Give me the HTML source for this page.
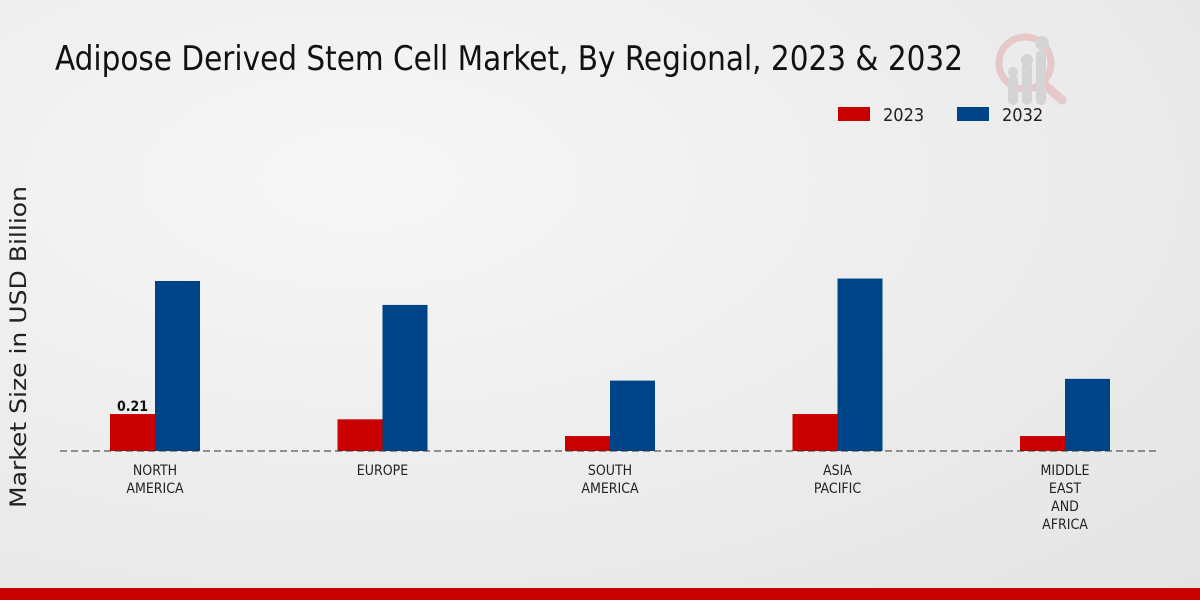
<!DOCTYPE html>
<html><head><meta charset="utf-8"><style>
html,body{margin:0;padding:0;width:1200px;height:600px;overflow:hidden}
body{background:radial-gradient(ellipse at 30% 30%,#f7f7f7 0%,#ececec 55%,#e4e4e4 100%);font-family:"DejaVu Sans","Liberation Sans",sans-serif}
</style></head><body>
<svg id="chart" width="1200" height="600" xmlns="http://www.w3.org/2000/svg">
<text x="55" y="70" font-size="34" fill="#111" font-family="DejaVu Sans Condensed, DejaVu Sans, sans-serif" textLength="908" lengthAdjust="spacingAndGlyphs">Adipose Derived Stem Cell Market, By Regional, 2023 &amp; 2032</text>
<g opacity="0.35">
<circle cx="1025" cy="63" r="26" fill="none" stroke="#d88" stroke-width="7"/>
<line x1="1045" y1="85" x2="1062" y2="100" stroke="#d88" stroke-width="9" stroke-linecap="round"/>
<rect x="1008" y="75" width="10" height="30" rx="5" fill="#aaa"/>
<rect x="1022" y="62" width="10" height="43" rx="5" fill="#aaa"/>
<rect x="1036" y="50" width="10" height="55" rx="5" fill="#aaa"/>
<circle cx="1013" cy="72" r="5" fill="#aaa"/><circle cx="1027" cy="60" r="6" fill="#aaa"/><circle cx="1042" cy="43" r="7" fill="#aaa"/>
</g>
<g font-family="DejaVu Sans Condensed, DejaVu Sans, sans-serif">
<rect x="838" y="107" width="32" height="14" fill="#c80000"/>
<text x="883" y="121" font-size="18" fill="#222">2023</text>
<rect x="957" y="107" width="32" height="14" fill="#004488"/>
<text x="1002" y="121" font-size="18" fill="#222">2032</text>
</g>
<text transform="translate(26,347) rotate(-90)" text-anchor="middle" font-size="22" fill="#222" textLength="322" lengthAdjust="spacingAndGlyphs">Market Size in USD Billion</text>
<g id="bars"></g>
<line x1="60" y1="451" x2="1160" y2="451" stroke="#333" stroke-width="1" stroke-dasharray="7,4"/>
<g id="labels" font-family="DejaVu Sans Condensed, DejaVu Sans, sans-serif"></g>
<rect x="0" y="588" width="1200" height="12" fill="#c80000"/>
</svg>
<script>
const categories=[["NORTH","AMERICA"],["EUROPE"],["SOUTH","AMERICA"],["ASIA","PACIFIC"],["MIDDLE","EAST","AND","AFRICA"]];
const values2023=[0.21,0.18,0.085,0.21,0.085];
const values2032=[0.966,0.83,0.40,0.98,0.41];
const ns="http://www.w3.org/2000/svg";
const base=451,scale=176,x0=155,step=227.5,bw=45;
const yH=v=>v*scale;
const xC=i=>x0+i*step;
const bars=document.getElementById('bars'),labels=document.getElementById('labels');
categories.forEach((c,i)=>{
 [[values2023,'#c80000',-bw,'2023'],[values2032,'#004488',0,'2032']].forEach(([arr,col,off,yr])=>{
  const r=document.createElementNS(ns,'rect');
  const h=yH(arr[i]);
  r.setAttribute('x',xC(i)+off);r.setAttribute('y',base-h);r.setAttribute('width',bw);r.setAttribute('height',h);r.setAttribute('fill',col);
  
  
  bars.appendChild(r);
 });
 c.forEach((ln,j)=>{
  const t=document.createElementNS(ns,'text');
  t.setAttribute('x',xC(i));t.setAttribute('y',475+j*18);t.setAttribute('text-anchor','middle');t.setAttribute('font-size','14');t.setAttribute('fill','#222');
  t.textContent=ln;
  
  
  labels.appendChild(t);
 });
});
const vl=document.createElementNS(ns,'text');
vl.setAttribute('x',xC(0)-bw/2);vl.setAttribute('y',base-yH(values2023[0])-3);vl.setAttribute('text-anchor','middle');vl.setAttribute('font-size','14');vl.setAttribute('font-weight','bold');vl.setAttribute('fill','#111');
vl.textContent=values2023[0].toFixed(2);


labels.appendChild(vl);
</script>
</body></html>
